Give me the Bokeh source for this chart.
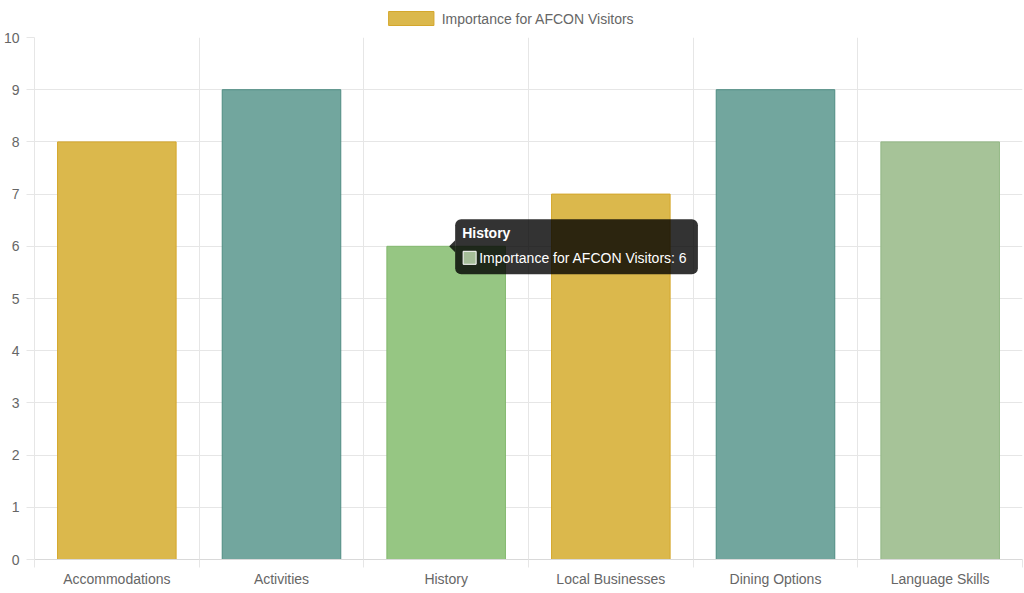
from bokeh.plotting import figure
from bokeh.layouts import column
from bokeh.models import (Range1d, FixedTicker, BoxAnnotation, ColumnDataSource)
from bokeh.core.properties import value
from bokeh.embed import file_html
from bokeh.resources import INLINE

categories = ["Accommodations", "Activities", "History", "Local Businesses",
              "Dining Options", "Language Skills"]
importance = [8, 9, 6, 7, 9, 8]
series_name = "Importance for AFCON Visitors"
fill_colors = ["#DBB84C", "#72A69E", "#96C683", "#DBB84C", "#72A69E", "#A6C398"]
line_colors = ["#D4A72C", "#4E8C82", "#82B86E", "#D4A72C", "#4E8C82", "#93B884"]
y_ticks = list(range(0, 11))
hover_index = 2

FONT = "Liberation Sans"
GRID = "#e6e6e6"
TXT = "#666666"
FS = "14px"

W, H = 1024, 593
LH = 27                      # height of legend strip
ML, MR, MT, MB = 33, 2, 10, 34

# ---------- legend strip ----------
leg = figure(width=W, height=LH, output_backend="svg", toolbar_location=None,
             x_range=Range1d(0, W), y_range=Range1d(LH, 0),
             min_border=0, x_axis_type=None, y_axis_type=None)
leg.outline_line_color = None
leg.xgrid.visible = False
leg.ygrid.visible = False
LX = 367
leg.quad(left=[LX], right=[LX + 47], top=[11], bottom=[25],
         fill_color=fill_colors[0], line_color=line_colors[0], line_width=1)
leg.text(x=[LX + 55], y=[18.5], text=[series_name], text_font=value(FONT),
         text_font_size=FS, text_color=TXT, text_baseline="middle", text_align="left")

# ---------- main chart ----------
p = figure(width=W, height=H - LH, output_backend="svg", toolbar_location=None,
           x_range=Range1d(0, len(categories)), y_range=Range1d(0, 10),
           min_border_left=ML, min_border_right=MR, min_border_top=MT,
           min_border_bottom=MB)
p.outline_line_color = None
p.background_fill_color = "white"
p.border_fill_color = "white"

xs = [i + 0.5 for i in range(len(categories))]
src = ColumnDataSource(dict(x=xs, top=importance, fill=fill_colors, line=line_colors))
r = p.vbar(x="x", top="top", width=0.72, bottom=0, source=src,
           fill_color="fill", line_color="line", line_width=1)

# x axis
p.xaxis.ticker = FixedTicker(ticks=xs, minor_ticks=list(range(len(categories) + 1)))
p.xaxis.major_label_overrides = {x: c for x, c in zip(xs, categories)}
p.xaxis.major_tick_out = 0
p.xaxis.major_tick_in = 0
p.xaxis.minor_tick_out = 8
p.xaxis.minor_tick_in = 0
p.xaxis.minor_tick_line_color = GRID
p.xaxis.axis_line_color = "#d9d9d9"
p.xaxis.major_label_standoff = 3
p.xgrid.ticker = FixedTicker(ticks=list(range(len(categories) + 1)))

# y axis
p.yaxis.ticker = FixedTicker(ticks=y_ticks, minor_ticks=[])
p.yaxis.major_tick_out = 8
p.yaxis.major_tick_in = 0
p.yaxis.major_tick_line_color = GRID
p.yaxis.axis_line_color = GRID
p.yaxis.major_label_standoff = 7
p.ygrid.ticker = FixedTicker(ticks=y_ticks)

for ax in (p.xaxis, p.yaxis):
    ax.major_label_text_font = FONT
    ax.major_label_text_font_size = FS
    ax.major_label_text_color = TXT
for g in (p.xgrid, p.ygrid):
    g.grid_line_color = GRID
    g.grid_line_width = 1

# static tooltip for the hovered bar
px_x = (W - ML - MR) / len(categories)
px_y = (H - LH - MT - MB) / 10.0
ax0 = xs[hover_index]
ay0 = importance[hover_index]
left = ax0 + 9 / px_x
right = left + 243 / px_x
top = ay0 + 27 / px_y
bottom = ay0 - 28 / px_y
p.add_layout(BoxAnnotation(left=left, right=right, top=top, bottom=bottom,
                           fill_color="black", fill_alpha=0.8, line_color=None,
                           border_radius=6, level="annotation"))
p.patch(x=[ax0 + 3 / px_x, left, left], y=[ay0, ay0 + 6 / px_y, ay0 - 6 / px_y],
        fill_color="black", fill_alpha=0.8, line_color=None, level="annotation")
p.quad(left=[left + 8 / px_x], right=[left + 21 / px_x],
       top=[ay0 - 5 / px_y], bottom=[ay0 - 18 / px_y],
       fill_color="#A5BD98", line_color="white", line_width=1,
       level="overlay")
p.text(x=[left + 7 / px_x], y=[ay0 + 13 / px_y], text=[categories[hover_index]],
       text_font=value(FONT), text_font_size=FS, text_font_style="bold",
       text_color="white", text_baseline="middle", text_align="left", level="overlay")
p.text(x=[left + 24 / px_x], y=[ay0 - 12 / px_y],
       text=[f"{series_name}: {importance[hover_index]}"],
       text_font=value(FONT), text_font_size=FS,
       text_color="white", text_baseline="middle", text_align="left", level="overlay")

layout = column(leg, p, spacing=0)
open("out.html", "w").write(file_html(layout, INLINE))
